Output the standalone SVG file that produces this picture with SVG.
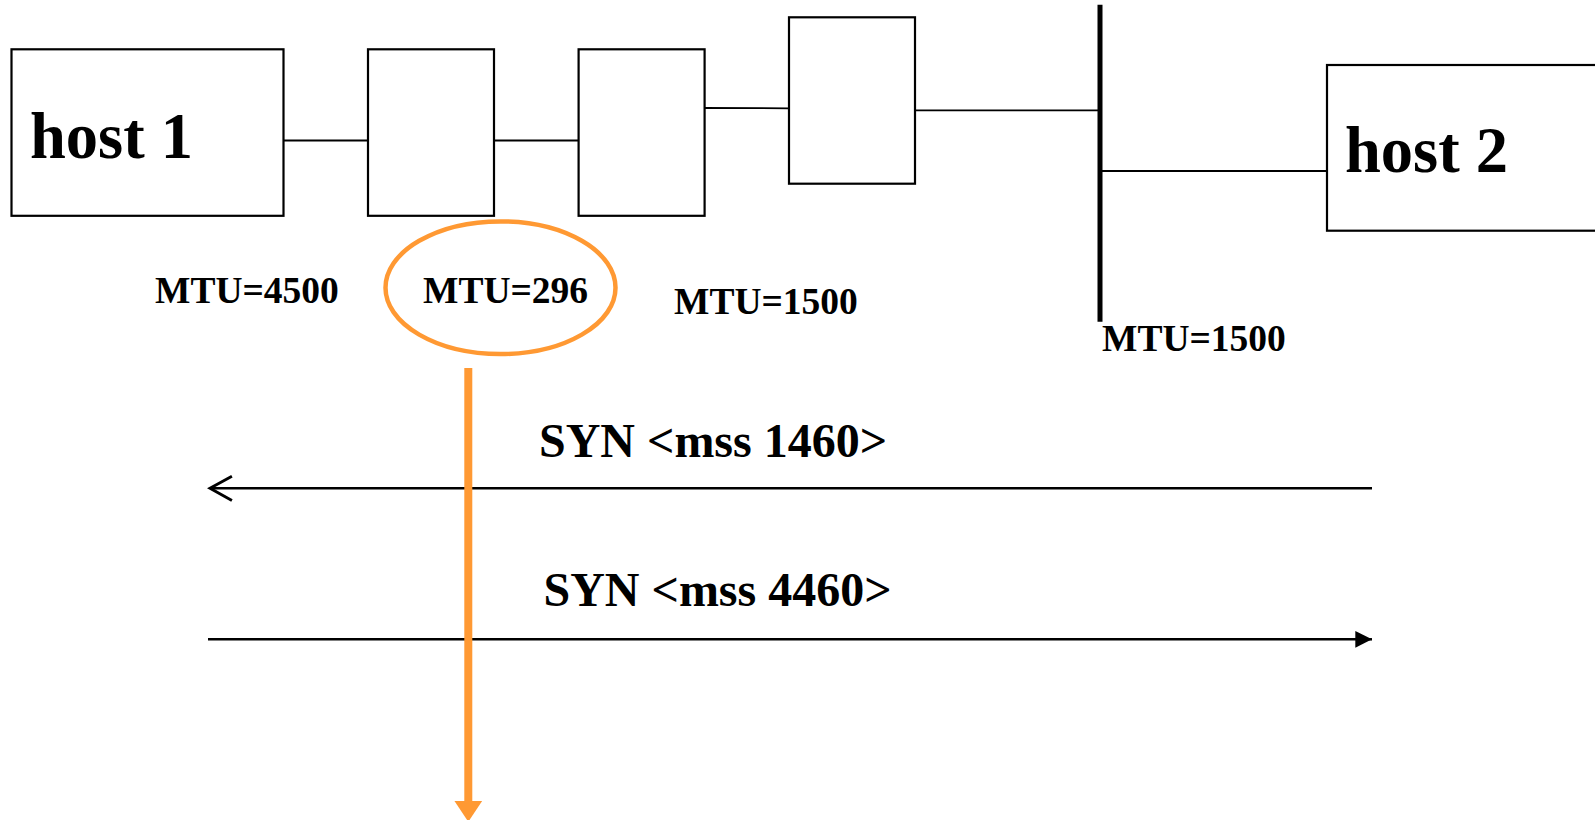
<svg xmlns="http://www.w3.org/2000/svg" width="1595" height="820" viewBox="0 0 1595 820">
  <style>
    .box { fill: #ffffff; stroke: #000000; stroke-width: 2.2; }
    .link { stroke: #000000; stroke-width: 1.8; fill: none; }
    .msg { stroke: #000000; stroke-width: 2.5; fill: none; }
    .t { font-family: "Liberation Serif", "Times New Roman", serif; font-weight: bold; fill: #000000; }
    .host { font-size: 64.5px; }
    .mtu { font-size: 37.5px; }
    .syn { font-size: 48px; }
  </style>
  <defs>
    <marker id="openHead" markerUnits="userSpaceOnUse" markerWidth="30" markerHeight="30" viewBox="-22 -13 24 26" refX="0" refY="0" orient="auto">
      <path d="M -19 -10.5 L 0 0 L -19 10.5" fill="none" stroke="#000000" stroke-width="2.5"/>
    </marker>
    <marker id="solidHead" markerUnits="userSpaceOnUse" markerWidth="20" markerHeight="20" viewBox="-16 -9 18 18" refX="0" refY="0" orient="auto">
      <path d="M -15 -7.5 L 0 0 L -15 7.5 Z" fill="#000000"/>
    </marker>
    <marker id="orangeHead" markerUnits="userSpaceOnUse" markerWidth="30" markerHeight="30" viewBox="-1 -13 22 26" refX="0" refY="0" orient="auto">
      <path d="M 0 -12 L 18 0 L 0 12 Z" fill="#FF9933"/>
    </marker>
  </defs>

  <g id="connectors">
    <line class="link" x1="283" y1="140.5" x2="367" y2="140.5"/>
    <line class="link" x1="494" y1="140.5" x2="578" y2="140.5"/>
    <line class="link" x1="705" y1="108" x2="789" y2="108.3"/>
    <line class="link" x1="915" y1="110.3" x2="1098" y2="110.3"/>
    <line class="link" x1="1100" y1="171" x2="1327" y2="171"/>
    <line id="syn1" class="msg" x1="1372" y1="488.3" x2="210" y2="488.3" marker-end="url(#openHead)"/>
    <line id="syn2" class="msg" x1="208" y1="639.3" x2="1360" y2="639.3"/>
    <line class="msg" x1="1357" y1="639.3" x2="1372" y2="639.3" stroke="none" marker-end="url(#solidHead)"/>
    <line id="pmtu" x1="468.3" y1="368" x2="468.3" y2="801" stroke="#FF9933" stroke-width="8" marker-end="url(#orangeHead)"/>
  </g>

  <g id="host1">
    <rect class="box" x="11.5" y="49.3" width="272" height="166.5"/>
    <text class="t host" x="30" y="157.7">host 1</text>
  </g>
  <g id="router1">
    <rect class="box" x="368" y="49.3" width="126" height="166.5"/>
  </g>
  <g id="router2">
    <rect class="box" x="578.6" y="49.3" width="126" height="166.5"/>
  </g>
  <g id="router3">
    <rect class="box" x="789" y="17.3" width="126" height="166.4"/>
  </g>
  <g id="lan">
    <line x1="1100" y1="4.7" x2="1100" y2="321.7" stroke="#000000" stroke-width="5"/>
  </g>
  <g id="host2">
    <rect class="box" x="1327" y="65" width="280" height="165.7"/>
    <text class="t host" x="1345" y="171.7">host 2</text>
  </g>

  <g id="labels">
    <text class="t mtu" x="155" y="302.7">MTU=4500</text>
    <ellipse cx="500.5" cy="287.7" rx="115" ry="66.3" fill="none" stroke="#FF9933" stroke-width="4.5"/>
    <text class="t mtu" x="423" y="302.7">MTU=296</text>
    <text class="t mtu" x="674" y="313.5">MTU=1500</text>
    <text class="t mtu" x="1102" y="350.7">MTU=1500</text>
    <text class="t syn" x="539" y="456.7">SYN &lt;mss 1460&gt;</text>
    <text class="t syn" x="543.5" y="606">SYN &lt;mss 4460&gt;</text>
  </g>
</svg>
